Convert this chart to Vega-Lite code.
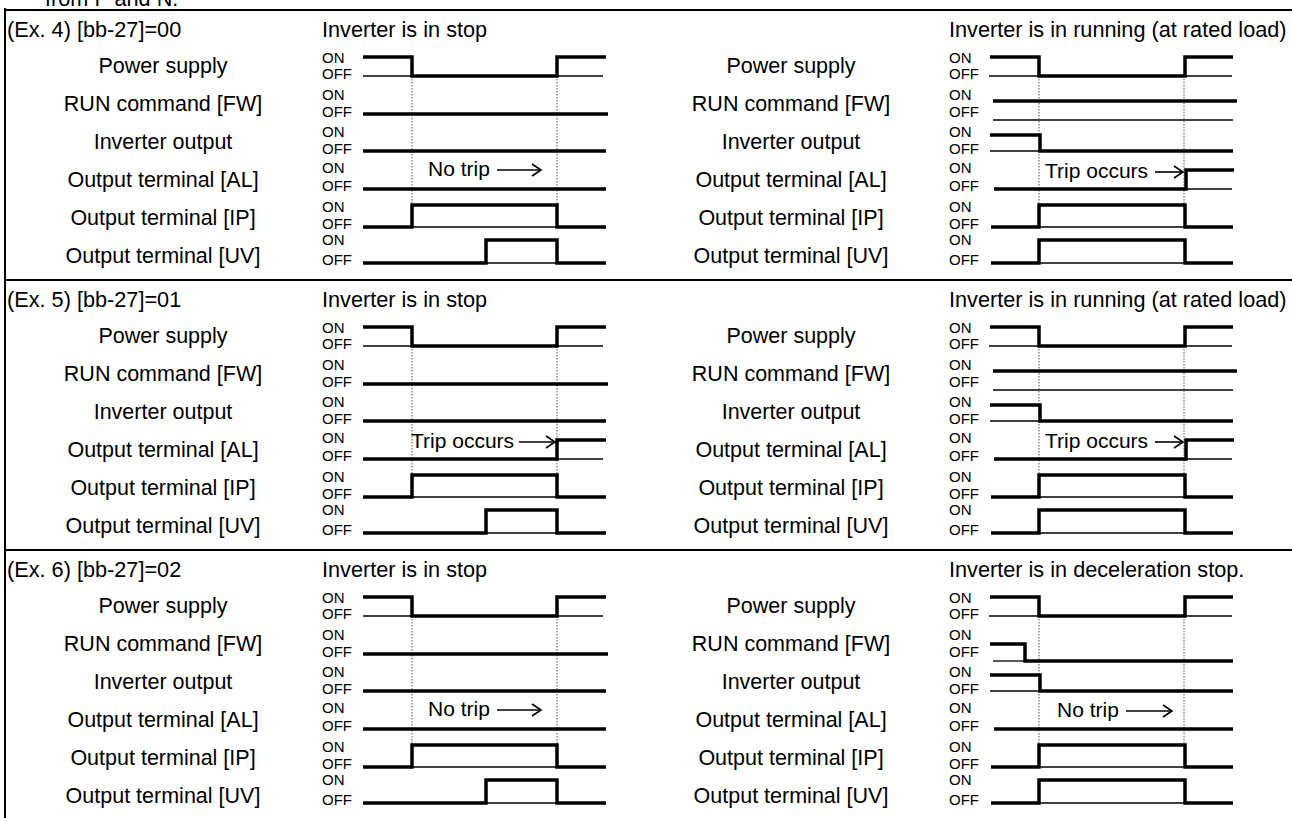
{
"$schema": "https://vega.github.io/schema/vega-lite/v6.json",
"width": 1292, "height": 818, "padding": 0, "autosize": {"type": "none"},
"background": "white",
"config": {"view": {"stroke": null}},
"datasets": {
"lines": [
{"g":"1Lpt","o":1,"x":363,"y":76,"k":"thin"},{"g":"1Lpt","o":2,"x":603,"y":76,"k":"thin"},
{"g":"1Lit","o":1,"x":412,"y":227,"k":"thin"},{"g":"1Lit","o":2,"x":557,"y":227,"k":"thin"},
{"g":"1Lut","o":1,"x":486,"y":263,"k":"thin"},{"g":"1Lut","o":2,"x":557,"y":263,"k":"thin"},
{"g":"1Rpt","o":1,"x":989,"y":76,"k":"thin"},{"g":"1Rpt","o":2,"x":1232,"y":76,"k":"thin"},
{"g":"1Rrt","o":1,"x":993,"y":120,"k":"thin"},{"g":"1Rrt","o":2,"x":1233,"y":120,"k":"thin"},
{"g":"1Rvt","o":1,"x":990,"y":151,"k":"thin"},{"g":"1Rvt","o":2,"x":1040,"y":151,"k":"thin"},
{"g":"1Rat","o":1,"x":1186,"y":189,"k":"thin"},{"g":"1Rat","o":2,"x":1232,"y":189,"k":"thin"},
{"g":"1Rit","o":1,"x":1039,"y":227,"k":"thin"},{"g":"1Rit","o":2,"x":1185,"y":227,"k":"thin"},
{"g":"1Rut","o":1,"x":1039,"y":263,"k":"thin"},{"g":"1Rut","o":2,"x":1185,"y":263,"k":"thin"},
{"g":"2Lpt","o":1,"x":363,"y":346,"k":"thin"},{"g":"2Lpt","o":2,"x":603,"y":346,"k":"thin"},
{"g":"2Lat","o":1,"x":557,"y":459,"k":"thin"},{"g":"2Lat","o":2,"x":603,"y":459,"k":"thin"},
{"g":"2Lit","o":1,"x":412,"y":497,"k":"thin"},{"g":"2Lit","o":2,"x":557,"y":497,"k":"thin"},
{"g":"2Lut","o":1,"x":486,"y":533,"k":"thin"},{"g":"2Lut","o":2,"x":557,"y":533,"k":"thin"},
{"g":"2Rpt","o":1,"x":989,"y":346,"k":"thin"},{"g":"2Rpt","o":2,"x":1232,"y":346,"k":"thin"},
{"g":"2Rrt","o":1,"x":993,"y":390,"k":"thin"},{"g":"2Rrt","o":2,"x":1233,"y":390,"k":"thin"},
{"g":"2Rvt","o":1,"x":990,"y":421,"k":"thin"},{"g":"2Rvt","o":2,"x":1040,"y":421,"k":"thin"},
{"g":"2Rat","o":1,"x":1186,"y":459,"k":"thin"},{"g":"2Rat","o":2,"x":1232,"y":459,"k":"thin"},
{"g":"2Rit","o":1,"x":1039,"y":497,"k":"thin"},{"g":"2Rit","o":2,"x":1185,"y":497,"k":"thin"},
{"g":"2Rut","o":1,"x":1039,"y":533,"k":"thin"},{"g":"2Rut","o":2,"x":1185,"y":533,"k":"thin"},
{"g":"3Lpt","o":1,"x":363,"y":616,"k":"thin"},{"g":"3Lpt","o":2,"x":603,"y":616,"k":"thin"},
{"g":"3Lit","o":1,"x":412,"y":767,"k":"thin"},{"g":"3Lit","o":2,"x":557,"y":767,"k":"thin"},
{"g":"3Lut","o":1,"x":486,"y":803,"k":"thin"},{"g":"3Lut","o":2,"x":557,"y":803,"k":"thin"},
{"g":"3Rpt","o":1,"x":989,"y":616,"k":"thin"},{"g":"3Rpt","o":2,"x":1232,"y":616,"k":"thin"},
{"g":"3Rrt","o":1,"x":993,"y":661,"k":"thin"},{"g":"3Rrt","o":2,"x":1025,"y":661,"k":"thin"},
{"g":"3Rvt","o":1,"x":990,"y":691,"k":"thin"},{"g":"3Rvt","o":2,"x":1040,"y":691,"k":"thin"},
{"g":"3Rit","o":1,"x":1039,"y":767,"k":"thin"},{"g":"3Rit","o":2,"x":1185,"y":767,"k":"thin"},
{"g":"3Rut","o":1,"x":1039,"y":803,"k":"thin"},{"g":"3Rut","o":2,"x":1185,"y":803,"k":"thin"},

{"g":"1Ld1","o":1,"x":412,"y":76,"k":"dot"},{"g":"1Ld1","o":2,"x":412,"y":205,"k":"dot"},
{"g":"1Ld2","o":1,"x":557,"y":76,"k":"dot"},{"g":"1Ld2","o":2,"x":557,"y":205,"k":"dot"},
{"g":"1Rd1","o":1,"x":1039,"y":76,"k":"dot"},{"g":"1Rd1","o":2,"x":1039,"y":205,"k":"dot"},
{"g":"1Rd2","o":1,"x":1184,"y":76,"k":"dot"},{"g":"1Rd2","o":2,"x":1184,"y":205,"k":"dot"},
{"g":"2Ld1","o":1,"x":412,"y":346,"k":"dot"},{"g":"2Ld1","o":2,"x":412,"y":475,"k":"dot"},
{"g":"2Ld2","o":1,"x":557,"y":346,"k":"dot"},{"g":"2Ld2","o":2,"x":557,"y":475,"k":"dot"},
{"g":"2Rd1","o":1,"x":1039,"y":346,"k":"dot"},{"g":"2Rd1","o":2,"x":1039,"y":475,"k":"dot"},
{"g":"2Rd2","o":1,"x":1184,"y":346,"k":"dot"},{"g":"2Rd2","o":2,"x":1184,"y":475,"k":"dot"},
{"g":"3Ld1","o":1,"x":412,"y":616,"k":"dot"},{"g":"3Ld1","o":2,"x":412,"y":745,"k":"dot"},
{"g":"3Ld2","o":1,"x":557,"y":616,"k":"dot"},{"g":"3Ld2","o":2,"x":557,"y":745,"k":"dot"},
{"g":"3Rd1","o":1,"x":1039,"y":616,"k":"dot"},{"g":"3Rd1","o":2,"x":1039,"y":745,"k":"dot"},
{"g":"3Rd2","o":1,"x":1184,"y":616,"k":"dot"},{"g":"3Rd2","o":2,"x":1184,"y":745,"k":"dot"},

{"g":"1Lp","o":1,"x":363,"y":57,"k":"thick"},{"g":"1Lp","o":2,"x":412,"y":57,"k":"thick"},{"g":"1Lp","o":3,"x":412,"y":76,"k":"thick"},{"g":"1Lp","o":4,"x":557,"y":76,"k":"thick"},{"g":"1Lp","o":5,"x":557,"y":57,"k":"thick"},{"g":"1Lp","o":6,"x":606,"y":57,"k":"thick"},
{"g":"1Lr","o":1,"x":363,"y":114,"k":"thick"},{"g":"1Lr","o":2,"x":608,"y":114,"k":"thick"},
{"g":"1Lv","o":1,"x":363,"y":151,"k":"thick"},{"g":"1Lv","o":2,"x":606,"y":151,"k":"thick"},
{"g":"1La","o":1,"x":363,"y":189,"k":"thick"},{"g":"1La","o":2,"x":606,"y":189,"k":"thick"},
{"g":"1Li","o":1,"x":363,"y":227,"k":"thick"},{"g":"1Li","o":2,"x":412,"y":227,"k":"thick"},{"g":"1Li","o":3,"x":412,"y":205,"k":"thick"},{"g":"1Li","o":4,"x":557,"y":205,"k":"thick"},{"g":"1Li","o":5,"x":557,"y":227,"k":"thick"},{"g":"1Li","o":6,"x":606,"y":227,"k":"thick"},
{"g":"1Lu","o":1,"x":363,"y":263,"k":"thick"},{"g":"1Lu","o":2,"x":486,"y":263,"k":"thick"},{"g":"1Lu","o":3,"x":486,"y":240,"k":"thick"},{"g":"1Lu","o":4,"x":557,"y":240,"k":"thick"},{"g":"1Lu","o":5,"x":557,"y":263,"k":"thick"},{"g":"1Lu","o":6,"x":606,"y":263,"k":"thick"},
{"g":"1Rp","o":1,"x":990,"y":57,"k":"thick"},{"g":"1Rp","o":2,"x":1039,"y":57,"k":"thick"},{"g":"1Rp","o":3,"x":1039,"y":76,"k":"thick"},{"g":"1Rp","o":4,"x":1185,"y":76,"k":"thick"},{"g":"1Rp","o":5,"x":1185,"y":57,"k":"thick"},{"g":"1Rp","o":6,"x":1233,"y":57,"k":"thick"},
{"g":"1Rr","o":1,"x":993,"y":101,"k":"thick"},{"g":"1Rr","o":2,"x":1237,"y":101,"k":"thick"},
{"g":"1Rv","o":1,"x":990,"y":135,"k":"thick"},{"g":"1Rv","o":2,"x":1040,"y":135,"k":"thick"},{"g":"1Rv","o":3,"x":1040,"y":151,"k":"thick"},{"g":"1Rv","o":4,"x":1233,"y":151,"k":"thick"},
{"g":"1Ra","o":1,"x":994,"y":189,"k":"thick"},{"g":"1Ra","o":2,"x":1186,"y":189,"k":"thick"},{"g":"1Ra","o":3,"x":1186,"y":170,"k":"thick"},{"g":"1Ra","o":4,"x":1234,"y":170,"k":"thick"},
{"g":"1Ri","o":1,"x":991,"y":227,"k":"thick"},{"g":"1Ri","o":2,"x":1039,"y":227,"k":"thick"},{"g":"1Ri","o":3,"x":1039,"y":205,"k":"thick"},{"g":"1Ri","o":4,"x":1185,"y":205,"k":"thick"},{"g":"1Ri","o":5,"x":1185,"y":227,"k":"thick"},{"g":"1Ri","o":6,"x":1233,"y":227,"k":"thick"},
{"g":"1Ru","o":1,"x":991,"y":263,"k":"thick"},{"g":"1Ru","o":2,"x":1039,"y":263,"k":"thick"},{"g":"1Ru","o":3,"x":1039,"y":240,"k":"thick"},{"g":"1Ru","o":4,"x":1185,"y":240,"k":"thick"},{"g":"1Ru","o":5,"x":1185,"y":263,"k":"thick"},{"g":"1Ru","o":6,"x":1233,"y":263,"k":"thick"},

{"g":"2Lp","o":1,"x":363,"y":327,"k":"thick"},{"g":"2Lp","o":2,"x":412,"y":327,"k":"thick"},{"g":"2Lp","o":3,"x":412,"y":346,"k":"thick"},{"g":"2Lp","o":4,"x":557,"y":346,"k":"thick"},{"g":"2Lp","o":5,"x":557,"y":327,"k":"thick"},{"g":"2Lp","o":6,"x":606,"y":327,"k":"thick"},
{"g":"2Lr","o":1,"x":363,"y":384,"k":"thick"},{"g":"2Lr","o":2,"x":608,"y":384,"k":"thick"},
{"g":"2Lv","o":1,"x":363,"y":421,"k":"thick"},{"g":"2Lv","o":2,"x":606,"y":421,"k":"thick"},
{"g":"2La","o":1,"x":363,"y":459,"k":"thick"},{"g":"2La","o":2,"x":557,"y":459,"k":"thick"},{"g":"2La","o":3,"x":557,"y":440,"k":"thick"},{"g":"2La","o":4,"x":606,"y":440,"k":"thick"},
{"g":"2Li","o":1,"x":363,"y":497,"k":"thick"},{"g":"2Li","o":2,"x":412,"y":497,"k":"thick"},{"g":"2Li","o":3,"x":412,"y":475,"k":"thick"},{"g":"2Li","o":4,"x":557,"y":475,"k":"thick"},{"g":"2Li","o":5,"x":557,"y":497,"k":"thick"},{"g":"2Li","o":6,"x":606,"y":497,"k":"thick"},
{"g":"2Lu","o":1,"x":363,"y":533,"k":"thick"},{"g":"2Lu","o":2,"x":486,"y":533,"k":"thick"},{"g":"2Lu","o":3,"x":486,"y":510,"k":"thick"},{"g":"2Lu","o":4,"x":557,"y":510,"k":"thick"},{"g":"2Lu","o":5,"x":557,"y":533,"k":"thick"},{"g":"2Lu","o":6,"x":606,"y":533,"k":"thick"},
{"g":"2Rp","o":1,"x":990,"y":327,"k":"thick"},{"g":"2Rp","o":2,"x":1039,"y":327,"k":"thick"},{"g":"2Rp","o":3,"x":1039,"y":346,"k":"thick"},{"g":"2Rp","o":4,"x":1185,"y":346,"k":"thick"},{"g":"2Rp","o":5,"x":1185,"y":327,"k":"thick"},{"g":"2Rp","o":6,"x":1233,"y":327,"k":"thick"},
{"g":"2Rr","o":1,"x":993,"y":371,"k":"thick"},{"g":"2Rr","o":2,"x":1237,"y":371,"k":"thick"},
{"g":"2Rv","o":1,"x":990,"y":405,"k":"thick"},{"g":"2Rv","o":2,"x":1040,"y":405,"k":"thick"},{"g":"2Rv","o":3,"x":1040,"y":421,"k":"thick"},{"g":"2Rv","o":4,"x":1233,"y":421,"k":"thick"},
{"g":"2Ra","o":1,"x":994,"y":459,"k":"thick"},{"g":"2Ra","o":2,"x":1186,"y":459,"k":"thick"},{"g":"2Ra","o":3,"x":1186,"y":440,"k":"thick"},{"g":"2Ra","o":4,"x":1234,"y":440,"k":"thick"},
{"g":"2Ri","o":1,"x":991,"y":497,"k":"thick"},{"g":"2Ri","o":2,"x":1039,"y":497,"k":"thick"},{"g":"2Ri","o":3,"x":1039,"y":475,"k":"thick"},{"g":"2Ri","o":4,"x":1185,"y":475,"k":"thick"},{"g":"2Ri","o":5,"x":1185,"y":497,"k":"thick"},{"g":"2Ri","o":6,"x":1233,"y":497,"k":"thick"},
{"g":"2Ru","o":1,"x":991,"y":533,"k":"thick"},{"g":"2Ru","o":2,"x":1039,"y":533,"k":"thick"},{"g":"2Ru","o":3,"x":1039,"y":510,"k":"thick"},{"g":"2Ru","o":4,"x":1185,"y":510,"k":"thick"},{"g":"2Ru","o":5,"x":1185,"y":533,"k":"thick"},{"g":"2Ru","o":6,"x":1233,"y":533,"k":"thick"},

{"g":"3Lp","o":1,"x":363,"y":597,"k":"thick"},{"g":"3Lp","o":2,"x":412,"y":597,"k":"thick"},{"g":"3Lp","o":3,"x":412,"y":616,"k":"thick"},{"g":"3Lp","o":4,"x":557,"y":616,"k":"thick"},{"g":"3Lp","o":5,"x":557,"y":597,"k":"thick"},{"g":"3Lp","o":6,"x":606,"y":597,"k":"thick"},
{"g":"3Lr","o":1,"x":363,"y":654,"k":"thick"},{"g":"3Lr","o":2,"x":608,"y":654,"k":"thick"},
{"g":"3Lv","o":1,"x":363,"y":691,"k":"thick"},{"g":"3Lv","o":2,"x":606,"y":691,"k":"thick"},
{"g":"3La","o":1,"x":363,"y":729,"k":"thick"},{"g":"3La","o":2,"x":606,"y":729,"k":"thick"},
{"g":"3Li","o":1,"x":363,"y":767,"k":"thick"},{"g":"3Li","o":2,"x":412,"y":767,"k":"thick"},{"g":"3Li","o":3,"x":412,"y":745,"k":"thick"},{"g":"3Li","o":4,"x":557,"y":745,"k":"thick"},{"g":"3Li","o":5,"x":557,"y":767,"k":"thick"},{"g":"3Li","o":6,"x":606,"y":767,"k":"thick"},
{"g":"3Lu","o":1,"x":363,"y":803,"k":"thick"},{"g":"3Lu","o":2,"x":486,"y":803,"k":"thick"},{"g":"3Lu","o":3,"x":486,"y":780,"k":"thick"},{"g":"3Lu","o":4,"x":557,"y":780,"k":"thick"},{"g":"3Lu","o":5,"x":557,"y":803,"k":"thick"},{"g":"3Lu","o":6,"x":606,"y":803,"k":"thick"},
{"g":"3Rp","o":1,"x":990,"y":597,"k":"thick"},{"g":"3Rp","o":2,"x":1039,"y":597,"k":"thick"},{"g":"3Rp","o":3,"x":1039,"y":616,"k":"thick"},{"g":"3Rp","o":4,"x":1185,"y":616,"k":"thick"},{"g":"3Rp","o":5,"x":1185,"y":597,"k":"thick"},{"g":"3Rp","o":6,"x":1233,"y":597,"k":"thick"},
{"g":"3Rr","o":1,"x":990,"y":644,"k":"thick"},{"g":"3Rr","o":2,"x":1025,"y":644,"k":"thick"},{"g":"3Rr","o":3,"x":1025,"y":661,"k":"thick"},{"g":"3Rr","o":4,"x":1233,"y":661,"k":"thick"},
{"g":"3Rv","o":1,"x":990,"y":675,"k":"thick"},{"g":"3Rv","o":2,"x":1040,"y":675,"k":"thick"},{"g":"3Rv","o":3,"x":1040,"y":691,"k":"thick"},{"g":"3Rv","o":4,"x":1233,"y":691,"k":"thick"},
{"g":"3Ra","o":1,"x":994,"y":729,"k":"thick"},{"g":"3Ra","o":2,"x":1233,"y":729,"k":"thick"},
{"g":"3Ri","o":1,"x":991,"y":767,"k":"thick"},{"g":"3Ri","o":2,"x":1039,"y":767,"k":"thick"},{"g":"3Ri","o":3,"x":1039,"y":745,"k":"thick"},{"g":"3Ri","o":4,"x":1185,"y":745,"k":"thick"},{"g":"3Ri","o":5,"x":1185,"y":767,"k":"thick"},{"g":"3Ri","o":6,"x":1233,"y":767,"k":"thick"},
{"g":"3Ru","o":1,"x":991,"y":803,"k":"thick"},{"g":"3Ru","o":2,"x":1039,"y":803,"k":"thick"},{"g":"3Ru","o":3,"x":1039,"y":780,"k":"thick"},{"g":"3Ru","o":4,"x":1185,"y":780,"k":"thick"},{"g":"3Ru","o":5,"x":1185,"y":803,"k":"thick"},{"g":"3Ru","o":6,"x":1233,"y":803,"k":"thick"},

{"g":"a1Ls","o":1,"x":497,"y":170,"k":"arrow"},{"g":"a1Ls","o":2,"x":541,"y":170,"k":"arrow"},
{"g":"a1Lh","o":1,"x":532,"y":164,"k":"arrow"},{"g":"a1Lh","o":2,"x":541,"y":170,"k":"arrow"},{"g":"a1Lh","o":3,"x":532,"y":176,"k":"arrow"},
{"g":"a1Rs","o":1,"x":1155,"y":172,"k":"arrow"},{"g":"a1Rs","o":2,"x":1183,"y":172,"k":"arrow"},
{"g":"a1Rh","o":1,"x":1174,"y":166,"k":"arrow"},{"g":"a1Rh","o":2,"x":1183,"y":172,"k":"arrow"},{"g":"a1Rh","o":3,"x":1174,"y":178,"k":"arrow"},
{"g":"a2Ls","o":1,"x":519,"y":442,"k":"arrow"},{"g":"a2Ls","o":2,"x":555,"y":442,"k":"arrow"},
{"g":"a2Lh","o":1,"x":546,"y":436,"k":"arrow"},{"g":"a2Lh","o":2,"x":555,"y":442,"k":"arrow"},{"g":"a2Lh","o":3,"x":546,"y":448,"k":"arrow"},
{"g":"a2Rs","o":1,"x":1155,"y":442,"k":"arrow"},{"g":"a2Rs","o":2,"x":1183,"y":442,"k":"arrow"},
{"g":"a2Rh","o":1,"x":1174,"y":436,"k":"arrow"},{"g":"a2Rh","o":2,"x":1183,"y":442,"k":"arrow"},{"g":"a2Rh","o":3,"x":1174,"y":448,"k":"arrow"},
{"g":"a3Ls","o":1,"x":497,"y":710,"k":"arrow"},{"g":"a3Ls","o":2,"x":541,"y":710,"k":"arrow"},
{"g":"a3Lh","o":1,"x":532,"y":704,"k":"arrow"},{"g":"a3Lh","o":2,"x":541,"y":710,"k":"arrow"},{"g":"a3Lh","o":3,"x":532,"y":716,"k":"arrow"},
{"g":"a3Rs","o":1,"x":1126,"y":711,"k":"arrow"},{"g":"a3Rs","o":2,"x":1172,"y":711,"k":"arrow"},
{"g":"a3Rh","o":1,"x":1163,"y":705,"k":"arrow"},{"g":"a3Rh","o":2,"x":1172,"y":711,"k":"arrow"},{"g":"a3Rh","o":3,"x":1163,"y":717,"k":"arrow"},

{"g":"b1","o":1,"x":5,"y":10,"k":"border"},{"g":"b1","o":2,"x":1292,"y":10,"k":"border"},
{"g":"b2","o":1,"x":5,"y":280,"k":"border"},{"g":"b2","o":2,"x":1292,"y":280,"k":"border"},
{"g":"b3","o":1,"x":5,"y":550,"k":"border"},{"g":"b3","o":2,"x":1292,"y":550,"k":"border"},
{"g":"b4","o":1,"x":5,"y":9,"k":"border"},{"g":"b4","o":2,"x":5,"y":818,"k":"border"}
],
"texts": [
{"x":45,"y":6,"t":"from P and N.","k":"top"},
{"x":7,"y":30,"t":"(Ex. 4) [bb-27]=00","k":"title"},
{"x":322,"y":30,"t":"Inverter is in stop","k":"title"},
{"x":949,"y":30,"t":"Inverter is in running (at rated load)","k":"title"},
{"x":7,"y":300,"t":"(Ex. 5) [bb-27]=01","k":"title"},
{"x":322,"y":300,"t":"Inverter is in stop","k":"title"},
{"x":949,"y":300,"t":"Inverter is in running (at rated load)","k":"title"},
{"x":7,"y":570,"t":"(Ex. 6) [bb-27]=02","k":"title"},
{"x":322,"y":570,"t":"Inverter is in stop","k":"title"},
{"x":949,"y":570,"t":"Inverter is in deceleration stop.","k":"title"},
{"x":428,"y":170,"t":"No trip","k":"ann"},
{"x":1045,"y":172,"t":"Trip occurs","k":"ann"},
{"x":411,"y":442,"t":"Trip occurs","k":"ann"},
{"x":1045,"y":442,"t":"Trip occurs","k":"ann"},
{"x":428,"y":710,"t":"No trip","k":"ann"},
{"x":1057,"y":711,"t":"No trip","k":"ann"},

{"x":163,"y":67,"t":"Power supply","k":"label"},
{"x":163,"y":105,"t":"RUN command [FW]","k":"label"},
{"x":163,"y":143,"t":"Inverter output","k":"label"},
{"x":163,"y":181,"t":"Output terminal [AL]","k":"label"},
{"x":163,"y":219,"t":"Output terminal [IP]","k":"label"},
{"x":163,"y":257,"t":"Output terminal [UV]","k":"label"},
{"x":791,"y":67,"t":"Power supply","k":"label"},
{"x":791,"y":105,"t":"RUN command [FW]","k":"label"},
{"x":791,"y":143,"t":"Inverter output","k":"label"},
{"x":791,"y":181,"t":"Output terminal [AL]","k":"label"},
{"x":791,"y":219,"t":"Output terminal [IP]","k":"label"},
{"x":791,"y":257,"t":"Output terminal [UV]","k":"label"},
{"x":163,"y":337,"t":"Power supply","k":"label"},
{"x":163,"y":375,"t":"RUN command [FW]","k":"label"},
{"x":163,"y":413,"t":"Inverter output","k":"label"},
{"x":163,"y":451,"t":"Output terminal [AL]","k":"label"},
{"x":163,"y":489,"t":"Output terminal [IP]","k":"label"},
{"x":163,"y":527,"t":"Output terminal [UV]","k":"label"},
{"x":791,"y":337,"t":"Power supply","k":"label"},
{"x":791,"y":375,"t":"RUN command [FW]","k":"label"},
{"x":791,"y":413,"t":"Inverter output","k":"label"},
{"x":791,"y":451,"t":"Output terminal [AL]","k":"label"},
{"x":791,"y":489,"t":"Output terminal [IP]","k":"label"},
{"x":791,"y":527,"t":"Output terminal [UV]","k":"label"},
{"x":163,"y":607,"t":"Power supply","k":"label"},
{"x":163,"y":645,"t":"RUN command [FW]","k":"label"},
{"x":163,"y":683,"t":"Inverter output","k":"label"},
{"x":163,"y":721,"t":"Output terminal [AL]","k":"label"},
{"x":163,"y":759,"t":"Output terminal [IP]","k":"label"},
{"x":163,"y":797,"t":"Output terminal [UV]","k":"label"},
{"x":791,"y":607,"t":"Power supply","k":"label"},
{"x":791,"y":645,"t":"RUN command [FW]","k":"label"},
{"x":791,"y":683,"t":"Inverter output","k":"label"},
{"x":791,"y":721,"t":"Output terminal [AL]","k":"label"},
{"x":791,"y":759,"t":"Output terminal [IP]","k":"label"},
{"x":791,"y":797,"t":"Output terminal [UV]","k":"label"},

{"x":322,"y":58,"t":"ON","k":"onoff"},{"x":322,"y":74,"t":"OFF","k":"onoff"},
{"x":322,"y":95,"t":"ON","k":"onoff"},{"x":322,"y":112,"t":"OFF","k":"onoff"},
{"x":322,"y":132,"t":"ON","k":"onoff"},{"x":322,"y":149,"t":"OFF","k":"onoff"},
{"x":322,"y":168,"t":"ON","k":"onoff"},{"x":322,"y":186,"t":"OFF","k":"onoff"},
{"x":322,"y":207,"t":"ON","k":"onoff"},{"x":322,"y":224,"t":"OFF","k":"onoff"},
{"x":322,"y":240,"t":"ON","k":"onoff"},{"x":322,"y":260,"t":"OFF","k":"onoff"},
{"x":949,"y":58,"t":"ON","k":"onoff"},{"x":949,"y":74,"t":"OFF","k":"onoff"},
{"x":949,"y":95,"t":"ON","k":"onoff"},{"x":949,"y":112,"t":"OFF","k":"onoff"},
{"x":949,"y":132,"t":"ON","k":"onoff"},{"x":949,"y":149,"t":"OFF","k":"onoff"},
{"x":949,"y":168,"t":"ON","k":"onoff"},{"x":949,"y":186,"t":"OFF","k":"onoff"},
{"x":949,"y":207,"t":"ON","k":"onoff"},{"x":949,"y":224,"t":"OFF","k":"onoff"},
{"x":949,"y":240,"t":"ON","k":"onoff"},{"x":949,"y":260,"t":"OFF","k":"onoff"},
{"x":322,"y":328,"t":"ON","k":"onoff"},{"x":322,"y":344,"t":"OFF","k":"onoff"},
{"x":322,"y":365,"t":"ON","k":"onoff"},{"x":322,"y":382,"t":"OFF","k":"onoff"},
{"x":322,"y":402,"t":"ON","k":"onoff"},{"x":322,"y":419,"t":"OFF","k":"onoff"},
{"x":322,"y":438,"t":"ON","k":"onoff"},{"x":322,"y":456,"t":"OFF","k":"onoff"},
{"x":322,"y":477,"t":"ON","k":"onoff"},{"x":322,"y":494,"t":"OFF","k":"onoff"},
{"x":322,"y":510,"t":"ON","k":"onoff"},{"x":322,"y":530,"t":"OFF","k":"onoff"},
{"x":949,"y":328,"t":"ON","k":"onoff"},{"x":949,"y":344,"t":"OFF","k":"onoff"},
{"x":949,"y":365,"t":"ON","k":"onoff"},{"x":949,"y":382,"t":"OFF","k":"onoff"},
{"x":949,"y":402,"t":"ON","k":"onoff"},{"x":949,"y":419,"t":"OFF","k":"onoff"},
{"x":949,"y":438,"t":"ON","k":"onoff"},{"x":949,"y":456,"t":"OFF","k":"onoff"},
{"x":949,"y":477,"t":"ON","k":"onoff"},{"x":949,"y":494,"t":"OFF","k":"onoff"},
{"x":949,"y":510,"t":"ON","k":"onoff"},{"x":949,"y":530,"t":"OFF","k":"onoff"},
{"x":322,"y":598,"t":"ON","k":"onoff"},{"x":322,"y":614,"t":"OFF","k":"onoff"},
{"x":322,"y":635,"t":"ON","k":"onoff"},{"x":322,"y":652,"t":"OFF","k":"onoff"},
{"x":322,"y":672,"t":"ON","k":"onoff"},{"x":322,"y":689,"t":"OFF","k":"onoff"},
{"x":322,"y":708,"t":"ON","k":"onoff"},{"x":322,"y":726,"t":"OFF","k":"onoff"},
{"x":322,"y":747,"t":"ON","k":"onoff"},{"x":322,"y":764,"t":"OFF","k":"onoff"},
{"x":322,"y":780,"t":"ON","k":"onoff"},{"x":322,"y":800,"t":"OFF","k":"onoff"},
{"x":949,"y":598,"t":"ON","k":"onoff"},{"x":949,"y":614,"t":"OFF","k":"onoff"},
{"x":949,"y":635,"t":"ON","k":"onoff"},{"x":949,"y":652,"t":"OFF","k":"onoff"},
{"x":949,"y":672,"t":"ON","k":"onoff"},{"x":949,"y":689,"t":"OFF","k":"onoff"},
{"x":949,"y":708,"t":"ON","k":"onoff"},{"x":949,"y":726,"t":"OFF","k":"onoff"},
{"x":949,"y":747,"t":"ON","k":"onoff"},{"x":949,"y":764,"t":"OFF","k":"onoff"},
{"x":949,"y":780,"t":"ON","k":"onoff"},{"x":949,"y":800,"t":"OFF","k":"onoff"}
]
},
"encoding": {
"x": {"field": "x", "type": "quantitative", "scale": {"domain": [0, 1292], "nice": false, "zero": false}, "axis": null},
"y": {"field": "y", "type": "quantitative", "scale": {"domain": [0, 818], "nice": false, "zero": false, "reverse": true}, "axis": null}
},
"layer": [
{"data": {"name": "lines"}, "transform": [{"filter": "datum.k === 'thin'"}],
 "mark": {"type": "line", "color": "#000", "strokeWidth": 1.3, "strokeCap": "butt", "strokeJoin": "miter"},
 "encoding": {"detail": {"field": "g"}, "order": {"field": "o"}}},
{"data": {"name": "lines"}, "transform": [{"filter": "datum.k === 'dot'"}],
 "mark": {"type": "line", "color": "#555", "strokeWidth": 1, "strokeDash": [1.5, 1.5], "strokeCap": "butt"},
 "encoding": {"detail": {"field": "g"}, "order": {"field": "o"}}},
{"data": {"name": "lines"}, "transform": [{"filter": "datum.k === 'thick'"}],
 "mark": {"type": "line", "color": "#000", "strokeWidth": 3.5, "strokeCap": "butt", "strokeJoin": "miter"},
 "encoding": {"detail": {"field": "g"}, "order": {"field": "o"}}},
{"data": {"name": "lines"}, "transform": [{"filter": "datum.k === 'arrow'"}],
 "mark": {"type": "line", "color": "#000", "strokeWidth": 1.6, "strokeCap": "butt", "strokeJoin": "miter"},
 "encoding": {"detail": {"field": "g"}, "order": {"field": "o"}}},
{"data": {"name": "lines"}, "transform": [{"filter": "datum.k === 'border'"}],
 "mark": {"type": "line", "color": "#000", "strokeWidth": 2, "strokeCap": "square"},
 "encoding": {"detail": {"field": "g"}, "order": {"field": "o"}}},
{"data": {"name": "texts"}, "transform": [{"filter": "datum.k === 'title'"}],
 "mark": {"type": "text", "align": "left", "baseline": "middle", "font": "Liberation Sans", "fontSize": 21.7, "color": "#000"},
 "encoding": {"text": {"field": "t"}}},
{"data": {"name": "texts"}, "transform": [{"filter": "datum.k === 'ann'"}],
 "mark": {"type": "text", "align": "left", "baseline": "middle", "font": "Liberation Sans", "fontSize": 21, "color": "#000"},
 "encoding": {"text": {"field": "t"}}},
{"data": {"name": "texts"}, "transform": [{"filter": "datum.k === 'label'"}],
 "mark": {"type": "text", "align": "center", "baseline": "middle", "font": "Liberation Sans", "fontSize": 21.5, "color": "#000"},
 "encoding": {"text": {"field": "t"}}},
{"data": {"name": "texts"}, "transform": [{"filter": "datum.k === 'onoff'"}],
 "mark": {"type": "text", "align": "left", "baseline": "middle", "font": "Liberation Sans", "fontSize": 15, "color": "#000"},
 "encoding": {"text": {"field": "t"}}},
{"data": {"name": "texts"}, "transform": [{"filter": "datum.k === 'top'"}],
 "mark": {"type": "text", "align": "left", "baseline": "alphabetic", "font": "Liberation Sans", "fontSize": 21.7, "color": "#000", "clip": true},
 "encoding": {"text": {"field": "t"}}}
]
}
